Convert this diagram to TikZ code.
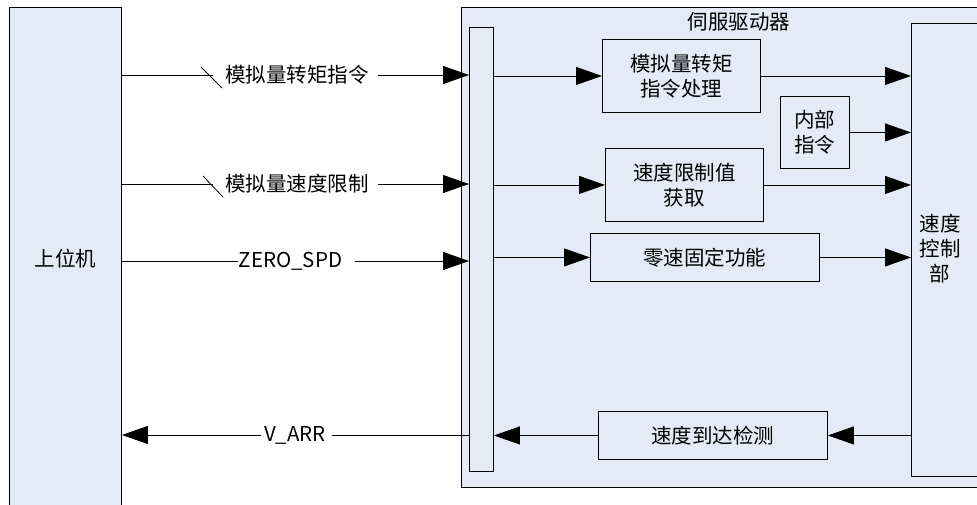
\documentclass[tikz,border=0pt]{standalone}
\usepackage{fontspec}
\setmainfont{Noto Sans CJK SC}
\usetikzlibrary{arrows.meta}
\definecolor{boxfill}{HTML}{E5EBF6}
\begin{document}
\begin{tikzpicture}[x=1pt,y=-1pt,
  blk/.style={draw=black,line width=0.9pt,fill=boxfill,inner sep=0pt,align=center,anchor=north west,font=\fontsize{20.5}{25}\selectfont},
  lbl/.style={inner sep=0pt,align=center,font=\fontsize{20.5}{25}\selectfont},
  conn/.style={line width=0.8pt,-{Triangle[length=26pt,width=18pt]}},
  plain/.style={line width=0.8pt}]
\useasboundingbox (0,0) rectangle (977,504);
\clip (0,0) rectangle (977,504);
% main blocks
\node[blk,minimum width=112pt,minimum height=502pt] (host) at (9,7) {上位机};
\node[blk,minimum width=560pt,minimum height=480pt] (servo) at (461,7) {};
\node[lbl] (servolbl) at (739,22) {伺服驱动器};
\node[blk,minimum width=24pt,minimum height=444pt] (bus) at (469,27) {};
\node[blk,minimum width=158pt,minimum height=73pt] (tq) at (602,39) {模拟量转矩\\指令处理};
\node[blk,minimum width=69pt,minimum height=72pt] (inn) at (780,96) {内部\\指令};
\node[blk,minimum width=158pt,minimum height=73pt] (sl) at (605,148) {速度限制值\\获取};
\node[blk,minimum width=229pt,minimum height=48pt] (zs) at (590,233) {零速固定功能};
\node[blk,minimum width=229pt,minimum height=48pt] (ar) at (598,411) {速度到达检测};
\node[blk,minimum width=100pt,minimum height=453pt] (sc) at (911,23) {};
\node[lbl] (sclbl) at (940,249) {速度\\控制\\部};
% row 1
\coordinate (r1a) at (213,75);
\node[lbl] (l1) at (297,75) {模拟量转矩指令};
\coordinate (r1b) at (378,75);
\draw[plain] (host.east |- r1a) -- (r1a);
\draw[plain] (201,67) -- (222,88);
\draw[conn] (r1b) -- (bus.west |- r1b);
% row 2
\coordinate (r2a) at (213,184);
\node[lbl] (l2) at (297,184) {模拟量速度限制};
\coordinate (r2b) at (378,184);
\draw[plain] (host.east |- r2a) -- (r2a);
\draw[plain] (203,176) -- (223,197);
\draw[conn] (r2b) -- (bus.west |- r2b);
% row 3
\coordinate (r3a) at (238,261);
\node[lbl] (l3) at (290.5,261) {ZERO\_SPD};
\coordinate (r3b) at (355,261);
\draw[plain] (host.east |- r3a) -- (r3a);
\draw[conn] (r3b) -- (bus.west |- r3b);
% row 4
\coordinate (r4a) at (261,435);
\node[lbl] (l4) at (295,435) {V\_ARR};
\coordinate (r4b) at (332,435);
\draw[conn] (r4a) -- (host.east |- r4a);
\draw[plain] (bus.west |- r4b) -- (r4b);
% inside servo
\draw[conn] (bus.east |- tq.west) -- (tq.west);
\draw[conn] (tq.east) -- (sc.west |- tq.east);
\draw[conn] (inn.east) -- (sc.west |- inn.east);
\draw[conn] (bus.east |- sl.west) -- (sl.west);
\draw[conn] (sl.east) -- (sc.west |- sl.east);
\draw[conn] (bus.east |- zs.west) -- (zs.west);
\draw[conn] (zs.east) -- (sc.west |- zs.east);
\draw[conn] (sc.west |- ar.east) -- (ar.east);
\draw[conn] (ar.west) -- (bus.east |- ar.west);
\end{tikzpicture}
\end{document}
